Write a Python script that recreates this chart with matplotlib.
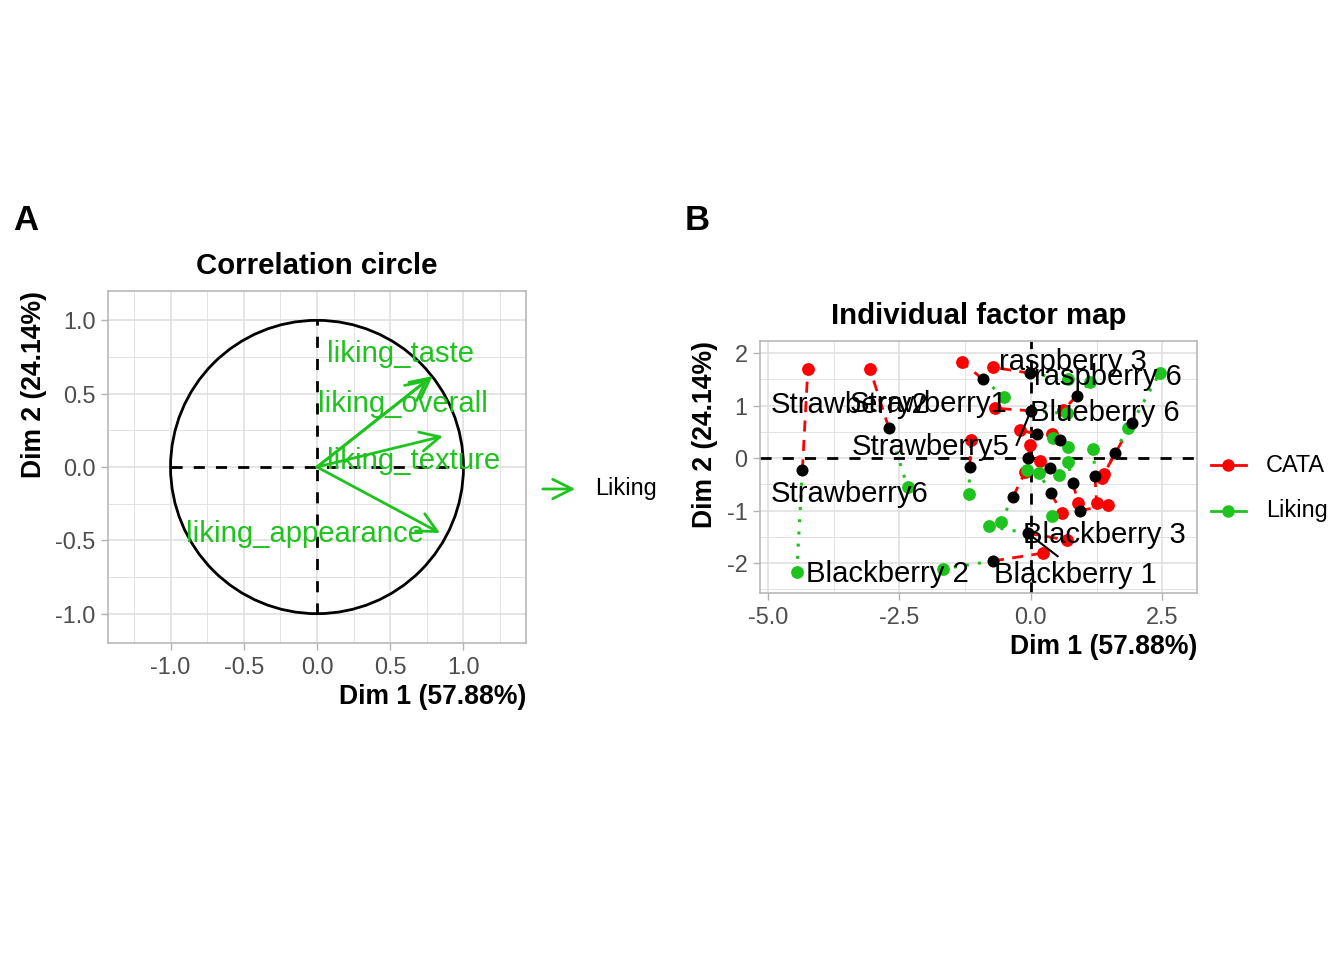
import numpy as np
import matplotlib
matplotlib.use("Agg")
import matplotlib.pyplot as plt
from matplotlib.lines import Line2D
from matplotlib.patches import Circle, FancyArrowPatch

plt.rcParams['font.family'] = ['Liberation Sans', 'DejaVu Sans']
plt.rcParams['axes.unicode_minus'] = False

RED = '#FF0000'
GREEN = '#1EC31E'
GRID = '#DEDEDE'
BORDER = '#B3B3B3'
TICK = '#4D4D4D'

# ---- panel A: correlation circle
var_names = ['liking_taste', 'liking_overall', 'liking_texture', 'liking_appearance']
var_x = [0.79, 0.76, 0.86, 0.84]
var_y = [0.62, 0.60, 0.21, -0.45]
var_lab_x = [0.57, 0.59, 0.66, -0.08]
var_lab_y = [0.77, 0.43, 0.04, -0.46]

# ---- panel B: partial individuals (CATA / Liking groups)
cata_x = [-4.24, -3.06, -1.31, -1.14, -0.72, -0.68, 0.61, 1.39, 1.36, -0.21,
          0.40, 0.18, 0.90, 1.25, 1.46, 0.60, -0.11, 0.68, 0.23, -0.02]
cata_y = [1.70, 1.70, 1.83, 0.34, 1.73, 0.95, 0.91, -0.30, -0.38, 0.53,
          0.46, -0.05, -0.86, -0.86, -0.90, -1.05, -0.27, -1.56, -1.81, 0.25]
lik_x = [-4.45, -2.34, -0.51, -1.18, 0.70, 0.68, 1.13, 2.45, 1.84, 0.43,
         0.70, 0.54, 0.70, 1.19, 0.40, 0.16, -0.57, -0.80, -1.67, -0.08]
lik_y = [-2.17, -0.56, 1.17, -0.69, 1.50, 0.85, 1.45, 1.62, 0.58, 0.39,
         0.22, -0.33, -0.08, 0.18, -1.10, -0.29, -1.21, -1.30, -2.11, -0.23]

ind_labels = ['Strawberry2', 'Strawberry1', 'Strawberry5', 'Strawberry6', 'raspberry 3',
              'raspberry 6', 'Blueberry 6', 'Blackberry 3', 'Blackberry 2', 'Blackberry 1']
ind_lab_x = [-3.44, -1.94, -1.90, -3.44, 0.80, 1.46, 1.41, 1.39, -2.72, 0.84]
ind_lab_y = [1.01, 1.03, 0.21, -0.69, 1.83, 1.54, 0.86, -1.47, -2.21, -2.23]

group_names = ['CATA', 'Liking']

fig = plt.figure(figsize=(13.44, 9.6), dpi=100)


def px(x, y):
    return x / 1344, 1 - y / 960


def style_axes(ax, xmaj, ymaj, xmin, ymin):
    ax.set_xticks(xmaj)
    ax.set_yticks(ymaj)
    ax.set_xticks(xmin, minor=True)
    ax.set_yticks(ymin, minor=True)
    ax.grid(which='major', color=GRID, lw=1.1, zorder=0)
    ax.grid(which='minor', color=GRID, lw=0.6, zorder=0)
    ax.set_axisbelow(True)
    for s in ax.spines.values():
        s.set_color(BORDER)
        s.set_linewidth(1.1)
    ax.tick_params(which='major', length=5, width=1.0, color=BORDER,
                   labelsize=16.9, labelcolor=TICK, pad=4)
    ax.tick_params(which='minor', length=0)


def labels(ax, title):
    ax.set_title(title, fontsize=21.2, fontweight='bold', pad=12)
    ax.set_xlabel('Dim 1 (57.88%)', fontsize=19.1, fontweight='bold', loc='right', labelpad=4)
    ax.set_ylabel('Dim 2 (24.14%)', fontsize=19.1, fontweight='bold', loc='top', labelpad=6)


# Panel A
axA = fig.add_axes([108 / 1344, 1 - 643 / 960, 418 / 1344, 352 / 960])
axA.set_xlim(-1.427, 1.427)
axA.set_ylim(-1.20, 1.20)
style_axes(axA, [-1.0, -0.5, 0.0, 0.5, 1.0], [-1.0, -0.5, 0.0, 0.5, 1.0],
           [-1.25, -0.75, -0.25, 0.25, 0.75, 1.25], [-0.75, -0.25, 0.25, 0.75])
axA.set_xticklabels(['-1.0', '-0.5', '0.0', '0.5', '1.0'])
axA.set_yticklabels(['-1.0', '-0.5', '0.0', '0.5', '1.0'])
axA.add_patch(Circle((0, 0), 1, fill=False, color='black', lw=2.0, zorder=2))
axA.plot([-1, 1], [0, 0], ls=(0, (4, 4)), color='black', lw=2.0, zorder=2)
axA.plot([0, 0], [-1, 1], ls=(0, (4, 4)), color='black', lw=2.0, zorder=2)
for vx, vy in zip(var_x, var_y):
    axA.add_patch(FancyArrowPatch((0, 0), (vx, vy), arrowstyle='->,head_length=0.7,head_width=0.35',
                                  mutation_scale=20, color=GREEN, lw=2.0, zorder=3,
                                  shrinkA=0, shrinkB=0))
for name, lx, ly in zip(var_names, var_lab_x, var_lab_y):
    axA.text(lx, ly, name, color=GREEN, fontsize=21.1, ha='center', va='center', zorder=4)
labels(axA, 'Correlation circle')

# legend A
la = FancyArrowPatch(px(540, 489), px(578, 489), transform=fig.transFigure,
                     arrowstyle='->,head_length=0.7,head_width=0.35', mutation_scale=20,
                     color=GREEN, lw=2.0)
fig.add_artist(la)
fig.text(*px(595, 489), 'Liking', fontsize=16.9, ha='left', va='center')

# Panel B
axB = fig.add_axes([760 / 1344, 1 - 593 / 960, 437 / 1344, 252 / 960])
axB.set_xlim(-5.15, 3.16)
axB.set_ylim(-2.57, 2.23)
style_axes(axB, [-5.0, -2.5, 0.0, 2.5], [-2, -1, 0, 1, 2],
           [-3.75, -1.25, 1.25], [-2.5, -1.5, -0.5, 0.5, 1.5])
axB.set_xticklabels(['-5.0', '-2.5', '0.0', '2.5'])
axB.axhline(0, ls=(0, (4, 4)), color='black', lw=2.0, zorder=1)
axB.axvline(0, ls=(0, (4, 4)), color='black', lw=2.0, zorder=1)

cx, cy = np.array(cata_x), np.array(cata_y)
gx, gy = np.array(lik_x), np.array(lik_y)
mx, my = (cx + gx) / 2, (cy + gy) / 2
for i in range(len(mx)):
    axB.plot([mx[i], cx[i]], [my[i], cy[i]], color=RED, ls=(0, (4, 3)), lw=2.0, zorder=2)
    axB.plot([mx[i], gx[i]], [my[i], gy[i]], color=GREEN, ls=(0, (1, 3)), lw=2.2, zorder=2)
axB.scatter(cx, cy, s=85, color=RED, zorder=3, linewidths=0)
axB.scatter(gx, gy, s=85, color=GREEN, zorder=3, linewidths=0)
axB.scatter(mx, my, s=75, color='black', zorder=4, linewidths=0)

# label segments (ggrepel style)
axB.plot([mx[5], -0.27], [my[5], 0.25], color='black', lw=1.5, zorder=4)
axB.plot([mx[17], 0.51], [my[17], -1.87], color='black', lw=1.5, zorder=4)
for name, lx, ly in zip(ind_labels, ind_lab_x, ind_lab_y):
    axB.text(lx, ly, name, fontsize=21.1, ha='center', va='center', zorder=5)
labels(axB, 'Individual factor map')

# legend B (drawn by hand)
for k, (name, col) in enumerate(zip(group_names, [RED, GREEN])):
    yy = 465 + 46 * k
    fig.add_artist(Line2D([px(1211, yy)[0], px(1246, yy)[0]], [px(0, yy)[1]] * 2,
                          transform=fig.transFigure, color=col, lw=2.0))
    fig.add_artist(Line2D([px(1228, yy)[0]], [px(0, yy)[1]], transform=fig.transFigure,
                          color=col, marker='o', markersize=8, lw=0))
    fig.text(*px(1266, yy), name, fontsize=16.9, ha='left', va='center')

fig.text(*px(13, 220), 'A', fontsize=25, fontweight='bold', ha='left', va='center')
fig.text(*px(685, 220), 'B', fontsize=25, fontweight='bold', ha='left', va='center')

fig.savefig('out.png', dpi=100)
